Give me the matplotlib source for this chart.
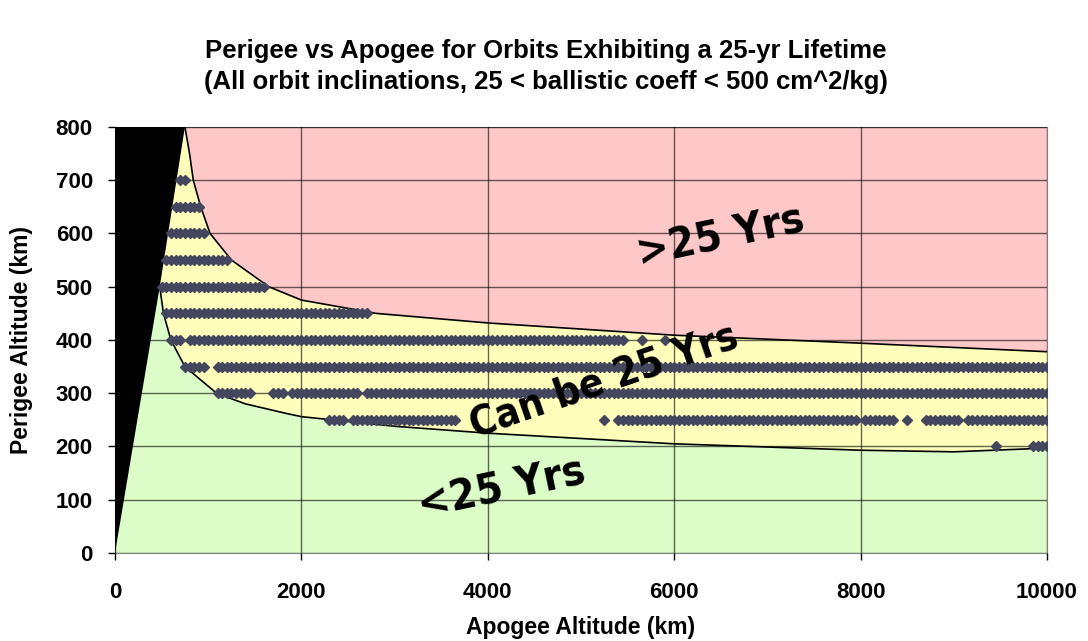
import matplotlib
matplotlib.use('Agg')
import matplotlib.pyplot as plt
import numpy as np

# boundary curves (apogee km, perigee km)
upper_apo = [750, 800, 840, 920, 1020, 1250, 1650, 2000, 2800, 4000, 6000, 8000, 10000]
upper_per = [800, 750, 700, 650, 600, 550, 500, 475, 450, 432, 409, 394, 378]
lower_apo = [480, 520, 600, 750, 1090, 1400, 1840, 2000, 3000, 4000, 6000, 8000, 9000, 10000]
lower_per = [500, 450, 400, 350, 300, 280, 262, 256, 238, 225, 205, 193, 190, 197]
# perigee > apogee (impossible) wedge
black_apo = [0, 0, 750, 480]
black_per = [0, 800, 800, 500]

# sampled orbits: perigee row -> apogee segments (start, end), 50 km steps
dot_rows = {
    700: [(700, 750)],
    650: [(650, 900)],
    600: [(600, 950)],
    550: [(550, 1200)],
    500: [(500, 1600)],
    450: [(550, 650), (700, 2700)],
    400: [(600, 700), (800, 5450), (5650, 5650), (5900, 5900)],
    350: [(750, 950), (1100, 1450), (1500, 10000)],
    300: [(1100, 1450), (1700, 1800), (1900, 2600), (2700, 10000)],
    250: [(2300, 2450), (2550, 3650), (5250, 5250), (5400, 7950), (8050, 8150),
          (8200, 8350), (8500, 8500), (8700, 9050), (9150, 10000)],
    200: [(9450, 9450), (9850, 10000)],
}
dot_step = 50

red = '#ffc8c8'
yellow = '#ffffbb'
green = '#dcfcc8'

fig = plt.figure(figsize=(10.88, 6.41), dpi=100)
ax = fig.add_axes([0.1057, 0.1373, 0.8566, 0.6646])

# regions
ax.fill(upper_apo + [10000], upper_per + [800], color=red, lw=0)
ax.fill(lower_apo + upper_apo[::-1], lower_per + upper_per[::-1], color=yellow, lw=0)
ax.fill([0] + lower_apo + [10000], [0] + lower_per + [0], color=green, lw=0)

ax.grid(True, color='black', alpha=0.6, lw=1)
ax.set_axisbelow(False)

ax.fill(black_apo, black_per, color='black', lw=0, zorder=3)
ax.plot(upper_apo, upper_per, color='black', lw=1.2, zorder=3)
ax.plot(lower_apo, lower_per, color='black', lw=1.2, zorder=3)

for per, segs in dot_rows.items():
    xs = np.concatenate([np.arange(a, b + 1, dot_step) for a, b in segs])
    ax.plot(xs, np.full(len(xs), per), ls='none', marker='D', ms=5.5,
            color='#44465e', zorder=4)

ax.set_xlim(0, 10000)
ax.set_ylim(0, 800)
ax.set_xticks(range(0, 10001, 2000))
ax.set_yticks(range(0, 801, 100))
for s in ax.spines.values():
    s.set_color('#808080')
ax.tick_params(colors='black', length=5, width=1, labelsize=16)
ax.tick_params(axis='x', pad=16)
ax.tick_params(axis='y', pad=11)
for lab in ax.get_xticklabels() + ax.get_yticklabels():
    lab.set_fontweight('bold')
    lab.set_family('Liberation Sans')

ax.set_xlabel('Apogee Altitude (km)', fontsize=16.5, fontweight='bold',
              family='Liberation Sans', labelpad=9)
ax.set_ylabel('Perigee Altitude (km)', fontsize=16.5, fontweight='bold',
              family='Liberation Sans', labelpad=16)

fig.text(0.502, 0.921, 'Perigee vs Apogee for Orbits Exhibiting a 25-yr Lifetime',
         ha='center', va='center', fontsize=18.5, fontweight='bold', family='Liberation Sans')
fig.text(0.502, 0.872, '(All orbit inclinations, 25 < ballistic coeff < 500 cm^2/kg)',
         ha='center', va='center', fontsize=18.5, fontweight='bold', family='Liberation Sans')

lab_font = dict(family='DejaVu Sans', fontstretch='condensed', fontweight='bold',
                ha='center', va='center', zorder=5)
ax.text(6500, 593, '>25 Yrs', rotation=12, fontsize=31, **lab_font)
ax.text(5250, 322, 'Can be 25 Yrs', rotation=19, fontsize=29, **lab_font)
ax.text(4150, 120, '<25 Yrs', rotation=12, fontsize=31, **lab_font)

fig.savefig('out.png', dpi=100)
